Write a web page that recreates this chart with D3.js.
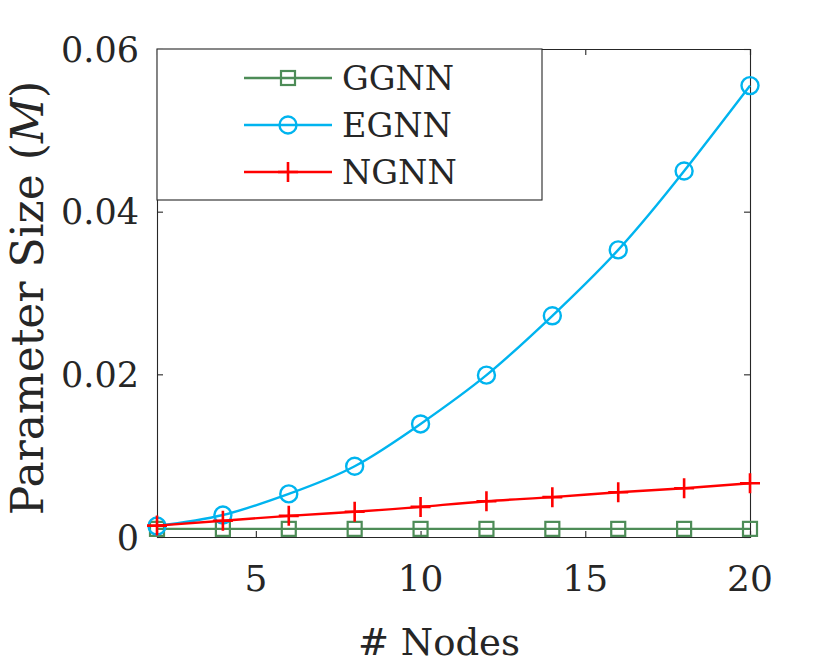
<!DOCTYPE html>
<html><head><meta charset="utf-8">
<script src="https://cdn.jsdelivr.net/npm/d3@7"></script>
<style>body{margin:0;background:#fff}</style>
</head><body><svg id="c" width="830" height="664"></svg>
<script>
const nodes = [2,4,6,8,10,12,14,16,18,20];
const ggnn = [0.0010,0.0010,0.0010,0.0010,0.0010,0.0010,0.0010,0.0010,0.0010,0.0010];
const egnn = [0.00135,0.0027,0.0053,0.0087,0.0139,0.0199,0.0272,0.0353,0.0450,0.0555];
const ngnn = [0.0014,0.0020,0.0026,0.0031,0.0037,0.0044,0.0049,0.0055,0.0060,0.0066];
const xTicks = [5,10,15,20];
const yTicks = [0,0.02,0.04,0.06];
const yTickLabels = ["0","0.02","0.04","0.06"];
const seriesNames = ["GGNN","EGNN","NGNN"];
const seriesColors = ["#4d8c57","#00b4ef","#ff0000"];
const seriesMarkers = ["square","circle","plus"];

const FONT = "DejaVu Serif";
const svg = d3.select("#c").attr("font-family",FONT);
const L=157,R=750,T=49,B=537;
const x = d3.scaleLinear().domain([2,20]).range([L,R]);
const y = d3.scaleLinear().domain([0,0.06]).range([B,T]);
const axisColor="#262626";

const gx = svg.append("g").attr("transform",`translate(0,${B})`)
  .call(d3.axisBottom(x).tickValues(xTicks).tickSize(-6).tickFormat(()=>""));
const gxt = svg.append("g").attr("transform",`translate(0,${T})`)
  .call(d3.axisTop(x).tickValues(xTicks).tickSize(-6).tickFormat(()=>""));
const gy = svg.append("g").attr("transform",`translate(${L},0)`)
  .call(d3.axisLeft(y).tickValues(yTicks).tickSize(-6).tickFormat(()=>""));
const gyr = svg.append("g").attr("transform",`translate(${R},0)`)
  .call(d3.axisRight(y).tickValues(yTicks).tickSize(-6).tickFormat(()=>""));
[gx,gxt,gy,gyr].forEach(g=>{g.selectAll("path,line").attr("stroke",axisColor).attr("stroke-width",1.1);});

svg.append("g").selectAll("text").data(xTicks).join("text")
  .attr("font-family",FONT).attr("fill","#262626")
  .attr("x",d=>x(d)).attr("y",591).attr("text-anchor","middle").attr("font-size",36).text(d=>d);
svg.append("g").selectAll("text").data(yTicks).join("text")
  .attr("font-family",FONT).attr("fill","#262626")
  .attr("x",L-18).attr("y",d=>y(d)).attr("dy","0.36em").attr("text-anchor","end").attr("font-size",35)
  .text((d,i)=>yTickLabels[i]);

svg.append("text").attr("font-family",FONT).attr("fill","#262626")
  .attr("x",439).attr("y",655).attr("text-anchor","middle").attr("font-size",37).text("# Nodes");
const yl = svg.append("text").attr("font-family",FONT).attr("fill","#262626")
  .attr("transform","translate(43,298) rotate(-90)").attr("text-anchor","middle").attr("font-size",44);
yl.append("tspan").text("Parameter Size (");
yl.append("tspan").attr("font-style","italic").text("M");
yl.append("tspan").text(")");

const data=[ggnn,egnn,ngnn];
const line = d3.line().x((d,i)=>x(nodes[i])).y(d=>y(d)).curve(d3.curveNatural);

function drawMarker(g,type,color,cx,cy){
  if(type==="square") g.append("rect").attr("x",cx-7).attr("y",cy-7).attr("width",14).attr("height",14)
    .attr("fill","none").attr("stroke",color).attr("stroke-width",2.2);
  else if(type==="circle") g.append("circle").attr("cx",cx).attr("cy",cy).attr("r",8.5)
    .attr("fill","none").attr("stroke",color).attr("stroke-width",2.4);
  else { g.append("path").attr("d",`M${cx-10},${cy}H${cx+10}M${cx},${cy-10}V${cy+10}`)
    .attr("stroke",color).attr("stroke-width",2.6).attr("fill","none"); }
}

data.forEach((vals,k)=>{
  const g=svg.append("g");
  g.append("path").datum(vals).attr("d",line).attr("fill","none").attr("stroke",seriesColors[k]).attr("stroke-width",2.4);
  vals.forEach((v,i)=>drawMarker(g,seriesMarkers[k],seriesColors[k],x(nodes[i]),y(v)));
});

const lg=svg.append("g");
lg.append("rect").attr("x",L).attr("y",T).attr("width",542-L).attr("height",200-T)
  .attr("fill","#fff").attr("stroke",axisColor).attr("stroke-width",1.1);
const rowY=[78,125,172];
seriesNames.forEach((n,k)=>{
  lg.append("line").attr("x1",244).attr("x2",332).attr("y1",rowY[k]).attr("y2",rowY[k])
    .attr("stroke",seriesColors[k]).attr("stroke-width",2.4);
  drawMarker(lg,seriesMarkers[k],seriesColors[k],288,rowY[k]);
  lg.append("text").attr("font-family",FONT).attr("fill","#262626")
    .attr("x",342).attr("y",rowY[k]).attr("dy","0.36em").attr("font-size",33.5).text(n);
});
</script></body></html>
